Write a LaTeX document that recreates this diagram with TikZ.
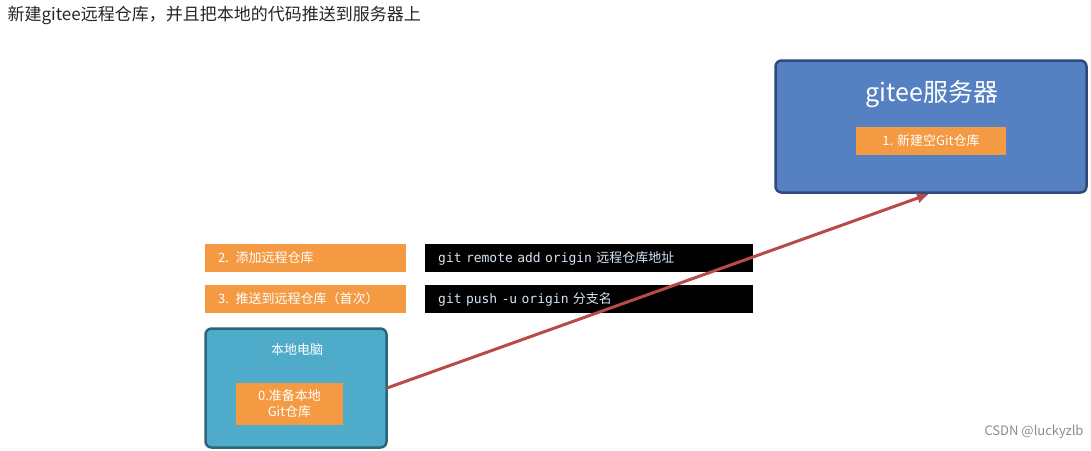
\documentclass[tikz,border=0pt]{standalone}
\usetikzlibrary{arrows.meta}
\usepackage{fontspec}
\setmainfont{Noto Sans CJK SC}
\newfontfamily\cjk{Noto Sans CJK SC}
\newfontfamily\monof{DejaVu Sans Mono}
\definecolor{org}{HTML}{F39A43}
\definecolor{srv}{HTML}{5580C2}
\definecolor{srvb}{HTML}{2F4A7A}
\definecolor{loc}{HTML}{4FABCA}
\definecolor{locb}{HTML}{2D6679}
\definecolor{arr}{HTML}{B84A4A}
\definecolor{cmdtxt}{HTML}{D5E4F2}
\begin{document}
\begin{tikzpicture}[x=1pt,y=-1pt,
  obox/.style={fill=org,text=white,inner sep=0pt,font=\fontsize{13}{15}\selectfont},
  cbox/.style={fill=black,text=cmdtxt,inner sep=0pt,font=\fontsize{13}{15}\selectfont},
  big/.style={rounded corners=6pt,line width=2.5pt,inner sep=0pt}]
\useasboundingbox (0,0) rectangle (1091,450);
\node[anchor=west,font=\fontsize{17}{20}\selectfont,text=black!85] (title) at (4,15) {新建gitee远程仓库，并且把本地的代码推送到服务器上};
% server
\node[big,draw=srvb,fill=srv,minimum width=311pt,minimum height=132pt] (srv) at (931,126.5) {};
\node[text=white,font=\fontsize{25}{28}\selectfont] (srvt) at (932,94) {gitee服务器};
\node[obox,minimum width=150pt,minimum height=28pt] (s1) at (931,141) {1. 新建空Git仓库};
% steps
\node[obox,minimum width=201pt,minimum height=28pt,anchor=west,text width=191pt,align=left] (s2) at (205,258) {\hspace*{8pt}2. 添加远程仓库};
\node[obox,minimum width=201pt,minimum height=28pt,anchor=west,text width=191pt,align=left] (s3) at (205,299) {\hspace*{8pt}3. 推送到远程仓库（首次）};
\node[cbox,minimum width=328pt,minimum height=28pt,anchor=west,text width=318pt,align=left] (c2) at (425,258) {\hspace*{8pt}\monof git remote add origin \cjk 远程仓库地址};
\node[cbox,minimum width=328pt,minimum height=28pt,anchor=west,text width=318pt,align=left] (c3) at (425,299) {\hspace*{8pt}\monof git push -u origin \cjk 分支名};
% local
\node[big,draw=locb,fill=loc,minimum width=181pt,minimum height=119pt] (loc) at (296,388) {};
\node[text=white,font=\fontsize{13}{15}\selectfont] (loct) at (297,350) {本地电脑};
\node[obox,minimum width=107pt,minimum height=42pt,align=center,font=\fontsize{13}{16}\selectfont] (s0) at (289.5,404) {0.准备本地\\Git仓库};
% arrow
\coordinate (a1) at (387,388);
\coordinate (a2) at (929,194);
\draw[arr,line width=3pt,-{Latex[length=12pt,width=11pt]}] (a1) -- (a2);
\node[anchor=east,text=black!45,font=\fontsize{13}{15}\selectfont] (wm) at (1087,432) {CSDN @luckyzlb};
\end{tikzpicture}
\end{document}
